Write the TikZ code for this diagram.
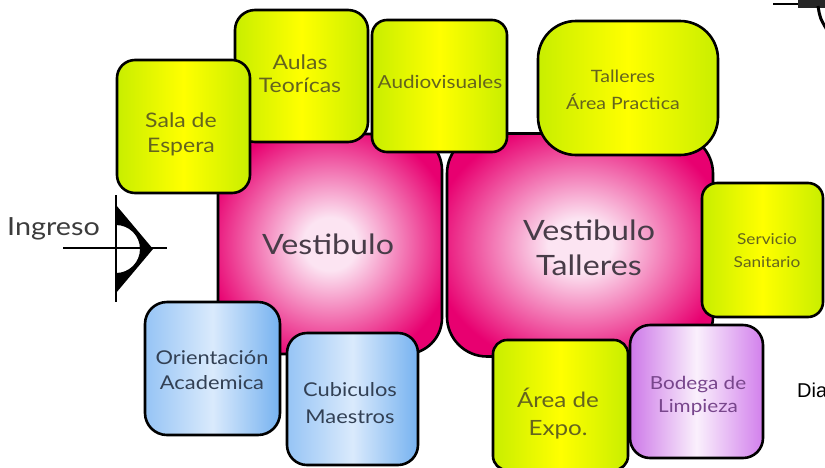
\documentclass[tikz,border=0pt]{standalone}
\usepackage{fontspec}
\setmainfont{Lato}[FakeStretch=1.15]
\newfontfamily\diafont{Liberation Sans}
\definecolor{ylime}{RGB}{200,238,0}
\definecolor{ysun}{RGB}{255,255,0}
\definecolor{pinkout}{RGB}{232,0,112}
\definecolor{pinkin}{RGB}{252,228,242}
\definecolor{bluel}{RGB}{150,196,245}
\definecolor{bluem}{RGB}{218,234,252}
\definecolor{bluer}{RGB}{118,178,240}
\definecolor{purl}{RGB}{205,120,232}
\definecolor{purm}{RGB}{250,240,252}
\definecolor{purr}{RGB}{210,128,236}
\definecolor{olivetxt}{RGB}{100,100,30}
\definecolor{pinktxt}{RGB}{72,60,72}
\definecolor{bluetxt}{RGB}{50,64,84}
\definecolor{purtxt}{RGB}{120,70,140}
\definecolor{ingtxt}{RGB}{60,60,60}
\pgfdeclareradialshading{pinkglow}{\pgfpoint{0bp}{0bp}}{color(0bp)=(pinkin); color(6bp)=(pinkin); color(28bp)=(pinkout); color(50bp)=(pinkout)}
\tikzset{
  room/.style={draw=black, line width=2.6pt, rounded corners=#1, inner sep=0pt},
  room/.default=18pt,
  yroom/.style={room=#1, left color=ylime, right color=ylime, middle color=ysun},
  yroom/.default=18pt,
  proom/.style={room=#1, shading=pinkglow},
  proom/.default=36pt,
  broom/.style={room=#1, left color=bluel, right color=bluer, middle color=bluem},
  broom/.default=20pt,
  uroom/.style={room=#1, left color=purl, right color=purr, middle color=purm},
  uroom/.default=20pt,
  txt/.style={align=center, inner sep=0pt},
}
\newcommand{\fs}[2]{\fontsize{#1}{#2}\selectfont}
\begin{document}
\begin{tikzpicture}[x=1pt,y=-1pt]
\useasboundingbox (0,0) rectangle (825,467);
\clip (0,0) rectangle (825,467);
\fill[white] (0,0) rectangle (825,467);
% large halls
\node[proom=36pt, minimum width=224pt, minimum height=220pt] (vest) at (330,244) {};
\node[proom=40pt, minimum width=266pt, minimum height=223pt] (vtal) at (580,245) {};
\node[txt, text=pinktxt, font=\fs{28}{35}] (vest-t) at (328,244) {Vestibulo};
\node[txt, text=pinktxt, font=\fs{28}{35}] (vtal-t) at (589,248) {Vestibulo\\Talleres};
% top rooms
\node[yroom=15pt, minimum width=135pt, minimum height=132pt] (audio) at (439.5,86) {};
\node[txt, text=olivetxt, font=\fs{18}{24}] (audio-t) at (440,82) {Audiovisuales};
\node[yroom=20pt, minimum width=133pt, minimum height=132pt] (aulas) at (301.5,76) {};
\node[txt, text=olivetxt, font=\fs{20}{23}] (aulas-t) at (300,74) {Aulas\\Teorícas};
\node[yroom=38pt, minimum width=180pt, minimum height=134pt] (tall) at (628,88) {};
\node[txt, text=olivetxt, font=\fs{17}{27}] (tall-t) at (623,90) {Talleres\\Área Practica};
\node[yroom=18pt, minimum width=133pt, minimum height=133pt] (sala) at (183.5,126.5) {};
\node[txt, text=olivetxt, font=\fs{20}{25}] (sala-t) at (181,134) {Sala de\\Espera};
\node[yroom=15pt, minimum width=121pt, minimum height=134pt] (serv) at (762.5,250) {};
\node[txt, text=olivetxt, font=\fs{15}{23}] (serv-t) at (767,251) {Servicio\\Sanitario};
% bottom rooms
\node[broom=22pt, minimum width=135pt, minimum height=133pt] (orient) at (212.5,368.5) {};
\node[txt, text=bluetxt, font=\fs{19}{25}] (orient-t) at (212,370) {Orientación\\Academica};
\node[broom=20pt, minimum width=131pt, minimum height=132pt] (cubi) at (352.5,399) {};
\node[txt, text=bluetxt, font=\fs{19}{27}] (cubi-t) at (350,403) {Cubiculos\\Maestros};
\node[yroom=14pt, minimum width=135pt, minimum height=130pt] (expo) at (560.5,405) {};
\node[txt, text=olivetxt, font=\fs{21}{28}] (expo-t) at (558,414) {Área de\\Expo.};
\node[uroom=20pt, minimum width=133pt, minimum height=133pt] (bode) at (696.5,391.5) {};
\node[txt, text=purtxt, font=\fs{18}{23}] (bode-t) at (698,396) {Bodega de\\Limpieza};
% entrance symbol
\node[anchor=west, text=ingtxt, font=\fs{25}{28}, inner sep=0pt] (ing) at (7,229) {Ingreso};
\coordinate (hl) at (63,248);
\coordinate (hr) at (167,248);
\coordinate (vt) at (116,195);
\coordinate (vb) at (116,302);
\draw[line width=1.5pt] (hl) -- (hr);
\draw[line width=2pt] (vt) -- (vb);
\fill[black] (116,205) -- (153,249) -- (116,293) -- (116,273)
  .. controls (129.25,273) and (140,262.25) .. (140,249)
  .. controls (140,235.75) and (129.25,225) .. (116,225) -- cycle;
% partial symbol top right
\coordinate (tl) at (773,4);
\coordinate (tr) at (826,4);
\draw[line width=1.6pt] (tl) -- (tr);
\fill[black!85] (798,0) rectangle (826,8);
\draw[line width=3pt] (818,6) .. controls (820,18) .. (827,30);
% cut caption
\node[anchor=west, inner sep=0pt, font=\diafont\fs{20}{22}] (dia) at (797,390) {Dia};
\end{tikzpicture}
\end{document}
